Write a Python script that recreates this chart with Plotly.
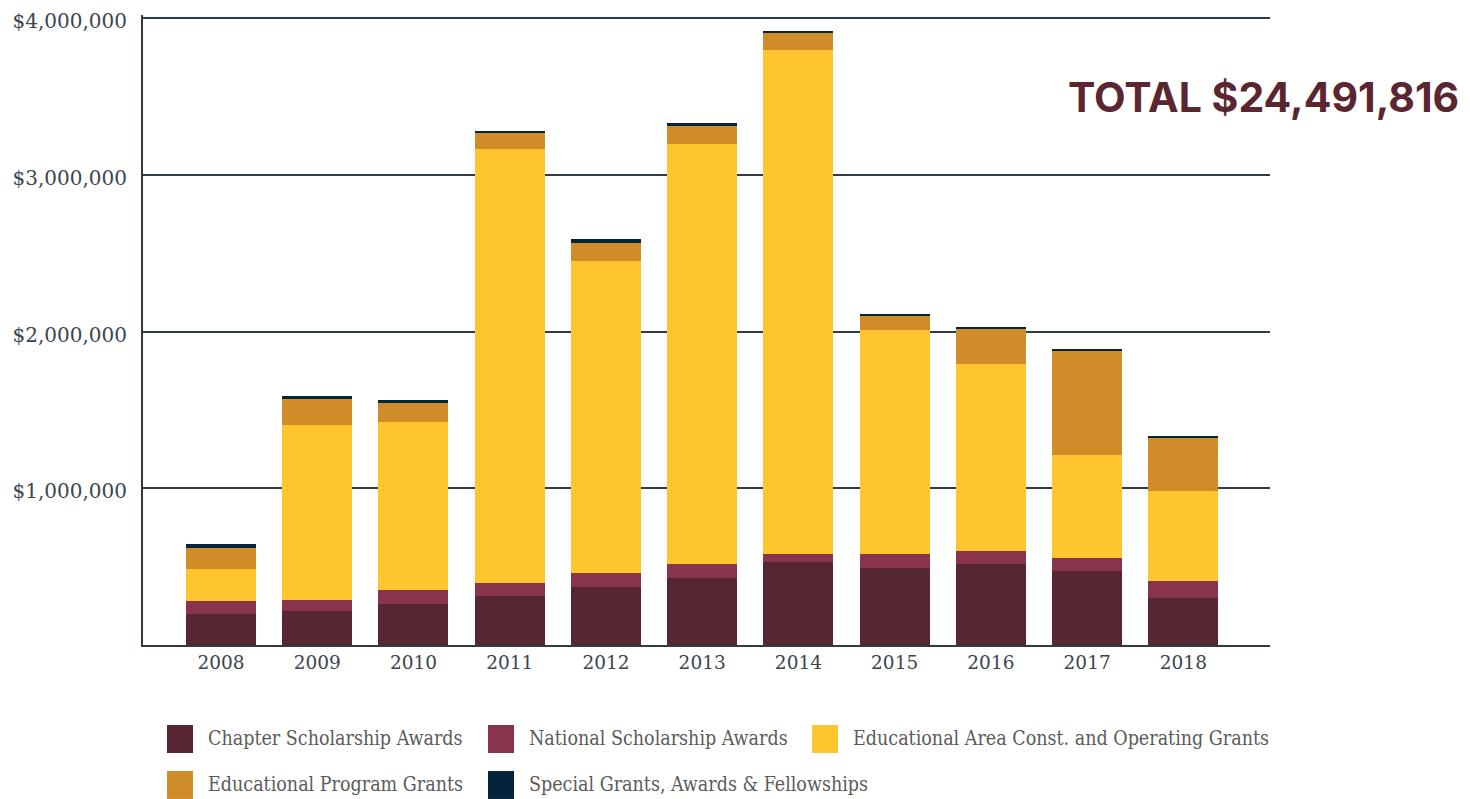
import plotly.graph_objects as go

years = [2008, 2009, 2010, 2011, 2012, 2013, 2014, 2015, 2016, 2017, 2018]
series_names = [
    "Chapter Scholarship Awards",
    "National Scholarship Awards",
    "Educational Area Const. and Operating Grants",
    "Educational Program Grants",
    "Special Grants, Awards & Fellowships",
]
chapter = [198000, 217000, 262000, 313000, 370000, 427000, 530000, 491000, 517000, 472000, 300000]
national = [83000, 70000, 89000, 84000, 89000, 90000, 51000, 90000, 83000, 83000, 108000]
edu_area = [204000, 1117000, 1072000, 2767000, 1991000, 2679000, 3215000, 1429000, 1193000, 657000, 574000]
edu_program = [134000, 165000, 121000, 109000, 115000, 115000, 108000, 95000, 229000, 670000, 345000]
special = [25000, 20000, 19000, 6000, 25000, 19000, 13000, 7000, 7000, 6000, 6000]
y_ticks = [1000000, 2000000, 3000000, 4000000]
y_tick_labels = ["$1,000,000", "$2,000,000", "$3,000,000", "$4,000,000"]
total_label = "TOTAL $24,491,816"

colors = ["#572731", "#88344b", "#fec52e", "#d18c2a", "#03243b"]
values = [chapter, national, edu_area, edu_program, special]

OFF = 8  # page body margin
Y_TOP = 4020000
W, H = 1470 - OFF, 799 - OFF
px_per_unit = (645 - 18) / 4000000
plot_top_ref = 645 - Y_TOP * px_per_unit
L, T = 143 - OFF, plot_top_ref - OFF
R = W - (1270 - OFF)
B = H - (645 - OFF)
PW, PH = W - L - R, H - T - B

def px(x):
    return (x - OFF - L) / PW

def py(y):
    return (H - B - (y - OFF)) / PH

fig = go.Figure()
for name, vals, col in zip(series_names, values, colors):
    fig.add_trace(go.Bar(
        x=years, y=vals, name=name, marker=dict(color=col, line=dict(width=0)),
        width=0.728, showlegend=False,
    ))

grid_col = "#2f3b45"

fig.update_layout(
    barmode="stack",
    width=W, height=H,
    margin=dict(l=L, r=R, t=T, b=B, autoexpand=False),
    paper_bgcolor="white", plot_bgcolor="white",
    xaxis=dict(
        range=[2007.19, 2018.9], tickvals=years, ticktext=[str(y) for y in years],
        showgrid=False, zeroline=False, showline=True, linecolor=grid_col, linewidth=2,
        ticks="", tickfont=dict(family="DejaVu Serif", size=18.5, color="#3a4550"),
        fixedrange=True,
    ),
    yaxis=dict(
        range=[0, Y_TOP], tickvals=y_ticks, ticktext=y_tick_labels,
        showgrid=True, gridcolor=grid_col, gridwidth=2, zeroline=False,
        showline=True, linecolor=grid_col, linewidth=2, ticks="",
        tickfont=dict(family="DejaVu Serif", size=20, color="#3a4550"),
        ticklabelstandoff=10, ticklabelshift=3, ticklabeloverflow="allow", fixedrange=True,
    ),
)

# Total label
fig.add_annotation(
    x=px(1461), y=py(97), xref="paper", yref="paper", xanchor="right", yanchor="middle",
    text="<b>" + total_label + "</b>", showarrow=False,
    font=dict(family="Inter", size=41, color="#5a2630"),
)

# Custom legend
legend_pos = [(167, 739), (488, 739), (812, 739), (167, 785), (488, 785)]
for (lx, ly), name, col in zip(legend_pos, series_names, colors):
    fig.add_shape(
        type="rect", xref="paper", yref="paper",
        x0=px(lx), x1=px(lx + 26), y0=py(ly + 14), y1=py(ly - 14),
        fillcolor=col, line=dict(width=0),
    )
    fig.add_annotation(
        x=px(lx + 39), y=py(ly), xref="paper", yref="paper", xanchor="left", yanchor="middle",
        text=name.replace("&", "&amp;"), showarrow=False,
        font=dict(family="DejaVu Serif Condensed, DejaVu Serif", size=19.5, color="#5b5b5b"),
    )

fig.write_html("out.html")
